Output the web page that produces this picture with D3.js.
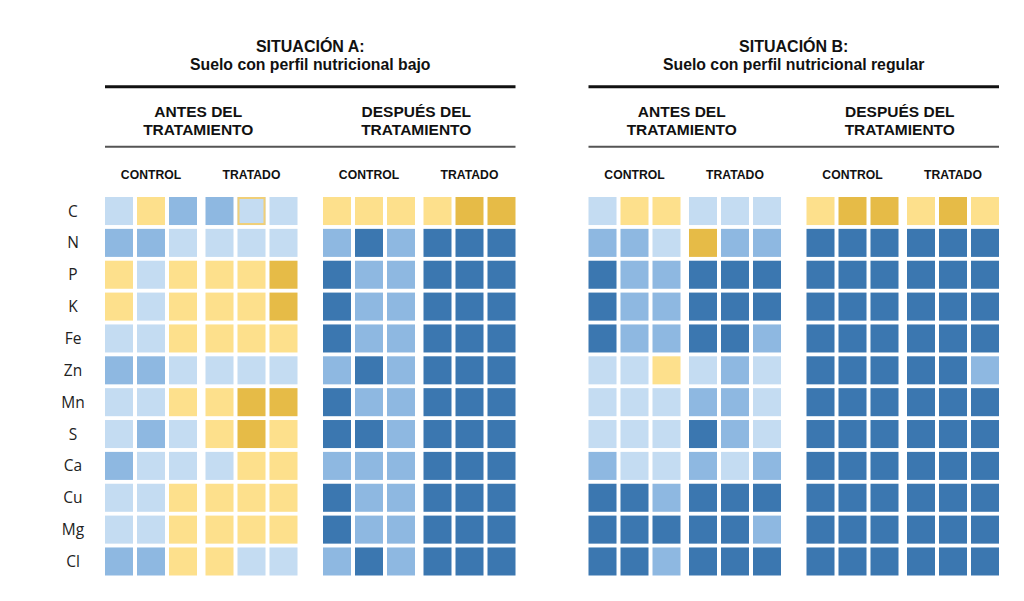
<!DOCTYPE html>
<html>
<head>
<meta charset="utf-8">
<script src="https://cdn.jsdelivr.net/npm/d3@7"></script>
<style>
  body { margin: 0; background: #fff; }
  svg { display: block; font-family: "Open Sans", "Noto Sans", sans-serif; }
  .head { font-family: "Liberation Sans", Arial, sans-serif; font-weight: 700; fill: #111; }
</style>
</head>
<body>
<svg id="chart" width="1024" height="601"></svg>
<script>
var nutrients = ["C", "N", "P", "K", "Fe", "Zn", "Mn", "S", "Ca", "Cu", "Mg", "Cl"];
var situations = ["A", "B"];
var situationTitles = ["SITUACIÓN A:", "SITUACIÓN B:"];
var situationSubtitles = ["Suelo con perfil nutricional bajo", "Suelo con perfil nutricional regular"];
var phases = ["antes", "despues"];
var phaseLabels = [["ANTES DEL", "TRATAMIENTO"], ["DESPUÉS DEL", "TRATAMIENTO"]];
var groups = ["control", "tratado"];
var groupLabels = ["CONTROL", "TRATADO"];
var reps = [0, 1, 2];

// level codes: L light blue, M mid blue, D dark blue, Y light yellow, O dark yellow, X light blue with yellow edge
// each row: antes control(3) antes tratado(3) despues control(3) despues tratado(3)
var situacionA = [
  "LYM MXL YYY YOO",
  "MML LLL MDM DDD",
  "YLY YYO DMM DDD",
  "YLY YYO DMM DDD",
  "LLY YYY DMM DDD",
  "MML LLL MDM DDD",
  "LLY YOO DMM DDD",
  "LML YOY DDM DDD",
  "MLL LYY MMM DDD",
  "LLY YYY DMM DDD",
  "LLY YYY DMM DDD",
  "MMY YLL MDM DDD"
];
var situacionB = [
  "LYY LLL YOO YOY",
  "MML OMM DDD DDD",
  "DMM DDD DDD DDD",
  "DMM DDD DDD DDD",
  "DMM DDM DDD DDD",
  "LLY LML DDD DDM",
  "LLL MML DDD DDD",
  "LLL DML DDD DDD",
  "MLL MLM DDD DDD",
  "DDM DDD DDD DDD",
  "DDD DDM DDD DDD",
  "DDM DDD DDD DDD"
];

var levelColor = {
  L: "#c4dcf2", M: "#8eb8e1", D: "#3b77b0",
  Y: "#fde08c", O: "#e6bb47", X: "#c4dcf2"
};

var svg = d3.select("#chart");

var sitX = d3.scaleOrdinal().domain(situations).range([105, 588.5]);
var phaseX = d3.scaleOrdinal().domain(phases).range([0, 218]);
var groupX = d3.scaleOrdinal().domain(groups).range([0, 100.5]);
var cellX = d3.scaleBand().domain(reps).range([0, 92]).paddingInner(0.125);
var y = d3.scaleBand().domain(nutrients).range([197, 575.5]).paddingInner(0.12);

var blockWidth = 218 + 100.5 + 92;

var cells = [];
[situacionA, situacionB].forEach(function(rows, si) {
  rows.forEach(function(row, ri) {
    var codes = row.replace(/ /g, "");
    codes.split("").forEach(function(code, ci) {
      cells.push({
        sit: situations[si],
        phase: phases[Math.floor(ci / 6)],
        group: groups[Math.floor(ci / 3) % 2],
        rep: ci % 3,
        nutrient: nutrients[ri],
        code: code
      });
    });
  });
});

function cx(d) { return sitX(d.sit) + phaseX(d.phase) + groupX(d.group) + cellX(d.rep); }

svg.append("g").selectAll("rect")
  .data(cells)
  .join("rect")
  .attr("x", cx)
  .attr("y", function(d) { return y(d.nutrient); })
  .attr("width", cellX.bandwidth())
  .attr("height", y.bandwidth())
  .attr("fill", function(d) { return levelColor[d.code]; });

// outlined cell
svg.append("g").selectAll("rect")
  .data(cells.filter(function(d) { return d.code === "X"; }))
  .join("rect")
  .attr("x", function(d) { return cx(d) + 1; })
  .attr("y", function(d) { return y(d.nutrient) + 1; })
  .attr("width", cellX.bandwidth() - 2)
  .attr("height", y.bandwidth() - 2)
  .attr("fill", "none")
  .attr("stroke", "#f0cf78")
  .attr("stroke-width", 2);

// row labels
svg.append("g").selectAll("text")
  .data(nutrients)
  .join("text")
  .attr("x", 73)
  .attr("y", function(d) { return y(d) + y.bandwidth() / 2; })
  .attr("dy", "0.36em")
  .attr("text-anchor", "middle")
  .attr("font-size", 15.5)
  .attr("fill", "#222")
  .text(function(d) { return d; });

// headers
situations.forEach(function(s, si) {
  var x0 = sitX(s);
  var g = svg.append("g");
  g.append("text")
    .attr("class", "head")
    .attr("x", x0 + blockWidth / 2)
    .attr("y", 51.5)
    .attr("text-anchor", "middle")
    .attr("font-size", 16)
    .text(situationTitles[si]);
  g.append("text")
    .attr("class", "head")
    .attr("x", x0 + blockWidth / 2)
    .attr("y", 69.6)
    .attr("text-anchor", "middle")
    .attr("font-size", 15.8)
    .text(situationSubtitles[si]);
  g.append("line")
    .attr("x1", x0).attr("x2", x0 + blockWidth)
    .attr("y1", 86.8).attr("y2", 86.8)
    .attr("stroke", "#111").attr("stroke-width", 3);
  g.append("line")
    .attr("x1", x0).attr("x2", x0 + blockWidth)
    .attr("y1", 146.8).attr("y2", 146.8)
    .attr("stroke", "#555").attr("stroke-width", 2);

  phases.forEach(function(p, pi) {
    var px = x0 + phaseX(p) + (100.5 + 92) / 2 - 3;
    phaseLabels[pi].forEach(function(line, li) {
      g.append("text")
        .attr("class", "head")
        .attr("x", px)
        .attr("y", 116.5 + li * 18.5)
        .attr("text-anchor", "middle")
        .attr("font-size", 15.5)
        .text(line);
    });
    groups.forEach(function(gr, gi) {
      g.append("text")
        .attr("class", "head")
        .attr("x", x0 + phaseX(p) + groupX(gr) + 46)
        .attr("y", 179)
        .attr("text-anchor", "middle")
        .attr("font-size", 12.2)
        .text(groupLabels[gi]);
    });
  });
});
</script>
</body>
</html>
